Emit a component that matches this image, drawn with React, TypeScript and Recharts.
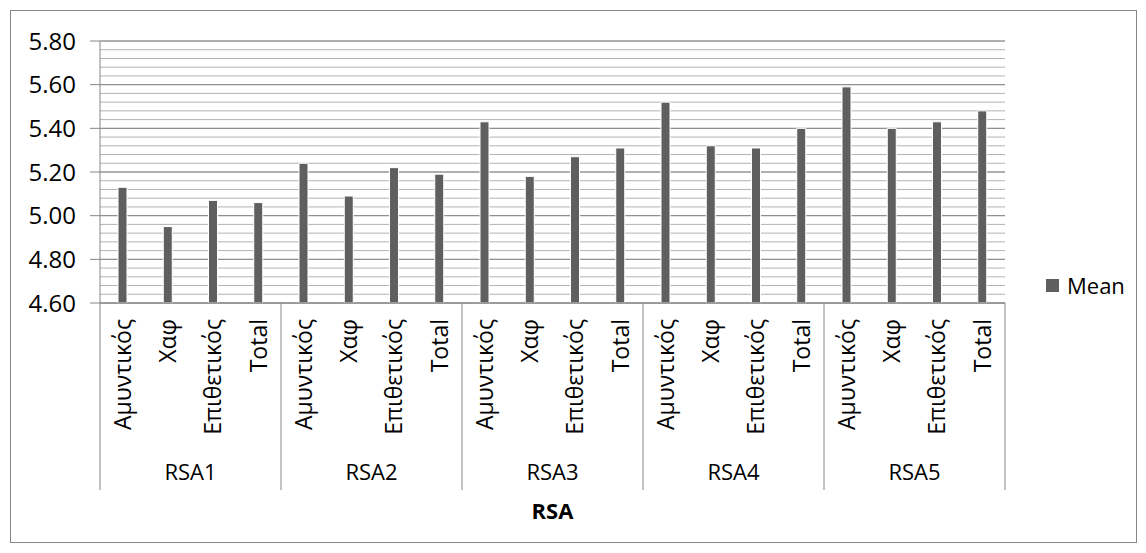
import React from 'react';
import { BarChart, Bar, XAxis, YAxis, CartesianGrid, Legend, Label } from 'recharts';

const positions = ['Αμυντικός', 'Χαφ', 'Επιθετικός', 'Total'];
const groups = ['RSA1', 'RSA2', 'RSA3', 'RSA4', 'RSA5'];

const rsa1 = [5.13, 4.95, 5.07, 5.06];
const rsa2 = [5.24, 5.09, 5.22, 5.19];
const rsa3 = [5.43, 5.18, 5.27, 5.31];
const rsa4 = [5.52, 5.32, 5.31, 5.4];
const rsa5 = [5.59, 5.4, 5.43, 5.48];

const yTicks = [4.6, 4.8, 5.0, 5.2, 5.4, 5.6, 5.8];

const data = [rsa1, rsa2, rsa3, rsa4, rsa5].flatMap((vals, g) =>
  vals.map((v, i) => ({ key: `${groups[g]}-${i}`, position: positions[i], group: groups[g], mean: v }))
);

// minor gridlines every 0.04 between the major ticks
const minorLines = Array.from({ length: 31 }, (_, i) => Math.round((4.6 + i * 0.04) * 100) / 100);

const FONT = '"Open Sans", sans-serif';
const AXIS = '#868686';
const BAR = '#5f5f5f';

const CatTick = (props: any) => {
  const { x, y, payload, index } = props;
  const off = payload.offset ?? 0;
  const row = data[index];
  const last = index === data.length - 1;
  return (
    <g>
      <text
        x={0}
        y={0}
        transform={`translate(${x},${y + 16}) rotate(-90)`}
        textAnchor="end"
        dy="0.36em"
        fontSize={23}
        fontFamily={FONT}
        fill="#000"
      >
        {row.position}
      </text>
      {index % 4 === 0 && <line x1={x - off} x2={x - off} y1={y} y2={y + 187} stroke={AXIS} />}
      {last && <line x1={x + off} x2={x + off} y1={y} y2={y + 187} stroke={AXIS} />}
      {index % 4 === 1 && (
        <text x={x + off} y={y + 177} textAnchor="middle" fontSize={22} fontFamily={FONT} fill="#000">
          {row.group}
        </text>
      )}
    </g>
  );
};

const LegendBox = () => (
  <div style={{ display: 'flex', alignItems: 'center', fontFamily: FONT, fontSize: 22, color: '#000' }}>
    <span style={{ display: 'inline-block', width: 13, height: 13, background: BAR, marginRight: 8 }} />
    Mean
  </div>
);

export default function App() {
  return (
    <div style={{ position: 'relative', margin: -8, width: 1146, height: 553, background: '#fff' }}>
      <div
        style={{
          position: 'absolute',
          left: 10,
          top: 10,
          width: 1125,
          height: 531,
          border: `1px solid ${AXIS}`,
        }}
      />
      <div style={{ position: 'absolute', left: 0, top: 0 }}>
        <BarChart
          width={1146}
          height={553}
          data={data}
          margin={{ top: 41, right: 141, bottom: 0, left: 10 }}
          barSize={9}
        >
          <CartesianGrid vertical={false} yAxisId="minor" stroke="#b3b3b3" />
          <CartesianGrid vertical={false} stroke={AXIS} />
          <XAxis
            dataKey="key"
            interval={0}
            height={250}
            tickLine={false}
            tickSize={0}
            tickMargin={0}
            axisLine={{ stroke: AXIS }}
            tick={<CatTick />}
          >
            <Label
              value="RSA"
              position="insideBottom"
              offset={34}
              style={{ fontFamily: FONT, fontSize: 22, fontWeight: 700, fill: '#000' }}
            />
          </XAxis>
          <YAxis
            domain={[4.6, 5.8]}
            ticks={yTicks}
            interval={0}
            allowDataOverflow
            width={90}
            tickSize={10}
            tickMargin={14}
            axisLine={{ stroke: AXIS }}
            tickLine={{ stroke: AXIS }}
            tickFormatter={(v: number) => v.toFixed(2)}
            tick={{ fontFamily: FONT, fontSize: 24, fill: '#000' }}
          />
          <YAxis yAxisId="minor" hide domain={[4.6, 5.8]} ticks={minorLines} interval={0} allowDataOverflow />
          <Legend
            layout="vertical"
            align="center"
            verticalAlign="middle"
            content={<LegendBox />}
            wrapperStyle={{ left: 1046, top: 270, width: 100 }}
          />
          <Bar dataKey="mean" name="Mean" fill={BAR} stroke="#ffffff" strokeWidth={1} isAnimationActive={false} />
        </BarChart>
      </div>
    </div>
  );
}
